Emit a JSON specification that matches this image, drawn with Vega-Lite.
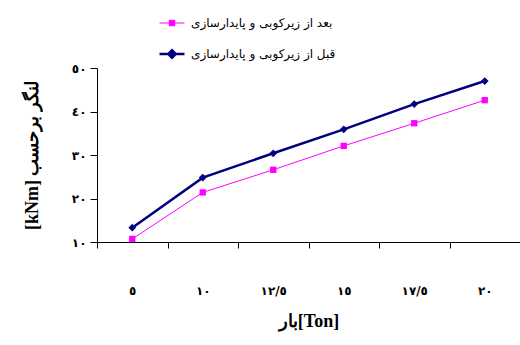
{
  "$schema": "https://vega.github.io/schema/vega-lite/v6.json",
  "width": 423,
  "height": 174,
  "autosize": "none",
  "padding": {"left": 97, "top": 68, "right": 0, "bottom": 103},
  "background": "white",
  "config": {"view": {"stroke": null}},
  "data": {
    "values": [
      {"load": "٥", "series": "بعد از زیرکوبی و پایدارسازی", "moment": 10.7},
      {"load": "١٠", "series": "بعد از زیرکوبی و پایدارسازی", "moment": 21.4},
      {"load": "١٢/٥", "series": "بعد از زیرکوبی و پایدارسازی", "moment": 26.6},
      {"load": "١٥", "series": "بعد از زیرکوبی و پایدارسازی", "moment": 32.1},
      {"load": "١٧/٥", "series": "بعد از زیرکوبی و پایدارسازی", "moment": 37.3},
      {"load": "٢٠", "series": "بعد از زیرکوبی و پایدارسازی", "moment": 42.6},
      {"load": "٥", "series": "قبل از زیرکوبی و پایدارسازی", "moment": 13.3},
      {"load": "١٠", "series": "قبل از زیرکوبی و پایدارسازی", "moment": 24.8},
      {"load": "١٢/٥", "series": "قبل از زیرکوبی و پایدارسازی", "moment": 30.4},
      {"load": "١٥", "series": "قبل از زیرکوبی و پایدارسازی", "moment": 35.9},
      {"load": "١٧/٥", "series": "قبل از زیرکوبی و پایدارسازی", "moment": 41.7},
      {"load": "٢٠", "series": "قبل از زیرکوبی و پایدارسازی", "moment": 47.0}
    ]
  },
  "encoding": {
    "x": {
      "field": "load",
      "type": "nominal",
      "sort": ["٥", "١٠", "١٢/٥", "١٥", "١٧/٥", "٢٠"],
      "scale": {"type": "band", "paddingInner": 0, "paddingOuter": 0},
      "axis": {
        "title": "بار[Ton]",
        "titleFont": "Liberation Serif",
        "titleFontSize": 18,
        "titleFontWeight": "bold",
        "titleColor": "black",
        "titlePadding": 16,
        "labelAngle": 0,
        "labelFont": "DejaVu Sans",
        "labelFontSize": 12,
        "labelFontWeight": "bold",
        "labelColor": "black",
        "labelPadding": 37,
        "tickBand": "extent",
        "tickSize": 6,
        "tickColor": "black",
        "domainColor": "black",
        "grid": false
      }
    },
    "y": {
      "field": "moment",
      "type": "quantitative",
      "scale": {"domain": [10, 50], "nice": false, "zero": false},
      "axis": {
        "title": "[kNm] لنگر برحسب",
        "titleFont": "Liberation Serif",
        "titleFontSize": 18,
        "titleFontWeight": "bold",
        "titleColor": "black",
        "titlePadding": 30,
        "values": [10, 20, 30, 40, 50],
        "labelExpr": "replace(replace(replace(replace(replace(replace(datum.label,'0','٠'),'1','١'),'2','٢'),'3','٣'),'4','٤'),'5','٥')",
        "labelFont": "DejaVu Sans",
        "labelFontSize": 12,
        "labelFontWeight": "bold",
        "labelColor": "black",
        "labelPadding": 4,
        "tickSize": 7,
        "tickColor": "black",
        "domainColor": "black",
        "grid": false
      }
    },
    "color": {
      "field": "series",
      "type": "nominal",
      "scale": {
        "domain": ["بعد از زیرکوبی و پایدارسازی", "قبل از زیرکوبی و پایدارسازی"],
        "range": ["#FF00FF", "#000080"]
      },
      "legend": {
        "title": null,
        "orient": "none",
        "legendX": 61,
        "legendY": -58,
        "padding": 0,
        "rowPadding": 11,
        "labelFont": "DejaVu Sans",
        "labelFontSize": 12,
        "labelColor": "black",
        "labelOffset": 5,
        "symbolSize": 625,
        "encode": {
          "symbols": {
            "update": {
              "shape": {"signal": "datum.value === 'قبل از زیرکوبی و پایدارسازی' ? 'M-1,0H1M0,-0.3L0.3,0L0,0.3L-0.3,0Z' : 'M-1,0H1M-0.22,-0.22H0.22V0.22H-0.22Z'"},
              "fill": {"signal": "datum.value === 'قبل از زیرکوبی و پایدارسازی' ? '#000080' : '#FF00FF'"},
              "stroke": {"signal": "datum.value === 'قبل از زیرکوبی و پایدارسازی' ? '#000080' : '#FF00FF'"},
              "strokeWidth": {"signal": "datum.value === 'قبل از زیرکوبی و پایدارسازی' ? 2.5 : 1"},
              "opacity": {"value": 1}
            }
          }
        }
      }
    }
  },
  "layer": [
    {
      "mark": {"type": "line"},
      "encoding": {
        "strokeWidth": {
          "field": "series",
          "type": "nominal",
          "scale": {
            "domain": ["بعد از زیرکوبی و پایدارسازی", "قبل از زیرکوبی و پایدارسازی"],
            "range": [1, 2.5]
          },
          "legend": null
        }
      }
    },
    {
      "transform": [{"filter": "datum.series === 'بعد از زیرکوبی و پایدارسازی'"}],
      "mark": {"type": "point", "filled": true, "opacity": 1, "shape": "square", "size": 40}
    },
    {
      "transform": [{"filter": "datum.series === 'قبل از زیرکوبی و پایدارسازی'"}],
      "mark": {"type": "point", "filled": true, "opacity": 1, "shape": "diamond", "size": 60}
    }
  ]
}
